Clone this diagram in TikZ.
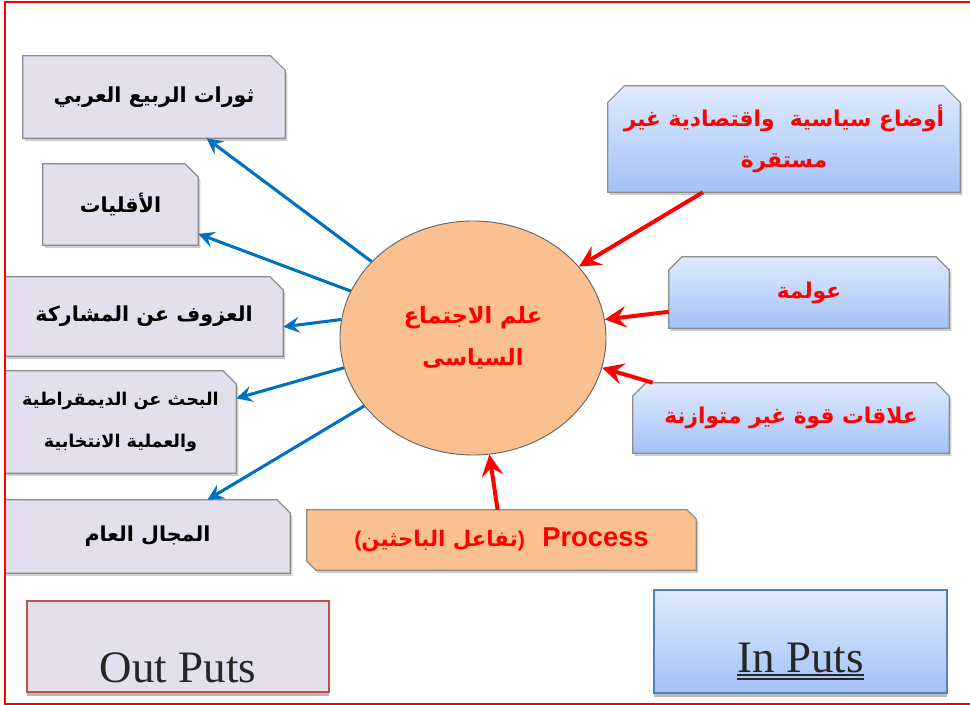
\documentclass[tikz,border=0pt]{standalone}
\usepackage{fontspec}
\setmainfont{Liberation Serif}
\newfontfamily\arabicfont[Script=Arabic]{DejaVu Sans}
\newfontfamily\arialfont{Liberation Sans}
\TeXXeTstate=1
\usetikzlibrary{shapes.geometric,arrows.meta,calc,shadows,backgrounds}
\newcommand\artext[1]{{\arabicfont\bfseries\beginR #1\endR}}
\definecolor{lav}{HTML}{E4DFEC}
\definecolor{boxgray}{HTML}{8C8C8C}
\definecolor{bluearr}{HTML}{0070C0}
\definecolor{tanfill}{HTML}{FAC090}
\definecolor{ltop}{HTML}{DFEAFC}
\definecolor{lbot}{HTML}{A3C2F7}
\definecolor{inborder}{HTML}{4F81BD}
\definecolor{outborder}{HTML}{C0504D}
\definecolor{framered}{HTML}{FF0000}
\definecolor{txtred}{HTML}{FF0000}
\tikzset{
  boxnode/.style={rectangle, inner sep=0pt, align=center},
  lefttext/.style={font=\fontsize{15.5}{32}\selectfont, text=black},
  righttext/.style={font=\fontsize{16.3}{31}\selectfont, text=txtred},
  lshape/.style={fill=lav, draw=boxgray, line width=0.9pt,
    drop shadow={shadow xshift=1.5pt, shadow yshift=-2pt, fill=black!40, opacity=0.5}},
  rshape/.style={top color=ltop, bottom color=lbot, draw=boxgray, line width=0.9pt,
    drop shadow={shadow xshift=1.5pt, shadow yshift=-2pt, fill=black!40, opacity=0.5}},
  pshape/.style={fill=tanfill, draw=boxgray, line width=0.9pt,
    drop shadow={shadow xshift=1.5pt, shadow yshift=-2pt, fill=black!40, opacity=0.5}},
  outarrow/.style={draw=bluearr, line width=2.3pt, -{Stealth[length=12pt,width=12pt,inset=4.5pt]}},
  inarrow/.style={draw=txtred, line width=3pt, -{Stealth[length=16pt,width=16pt,inset=6pt]}},
}
\begin{document}
\begin{tikzpicture}[x=0.75pt,y=-0.75pt]
\useasboundingbox (0,0) rectangle (970,705);
% frame
\draw[framered, line width=1.6pt] (980,2) -- (5,2) -- (5,704) -- (980,704);

% left (output) boxes
\node[boxnode, lefttext, minimum width=196.5pt, minimum height=61.5pt] (b1) at (154,97) {\artext{ثورات الربيع العربي}};
\node[boxnode, lefttext, minimum width=116.25pt, minimum height=60.75pt] (b2) at (120.5,204.5) {\artext{الأقليات}};
\node[boxnode, lefttext, minimum width=208.5pt, minimum height=59.25pt] (b3) at (144,316.5) {\artext{العزوف عن المشاركة}};
\node[boxnode, lefttext, font=\fontsize{13.2}{31}\selectfont, minimum width=173.25pt, minimum height=76.5pt] (b4) at (120.5,422) {\artext{البحث عن الديمقراطية}\\\artext{والعملية الانتخابية}};
\node[boxnode, lefttext, minimum width=213.75pt, minimum height=54.75pt] (b5) at (147.5,536.5) {\artext{المجال العام}};

% right (input) boxes
\node[boxnode, righttext, minimum width=264pt, minimum height=79.5pt] (r1) at (784,139) {\artext{أوضاع سياسية\ \ واقتصادية غير}\\\artext{مستقرة}};
\node[boxnode, righttext, minimum width=210pt, minimum height=53.25pt] (r2) at (809,292.5) {\artext{عولمة}};
\node[boxnode, righttext, minimum width=237pt, minimum height=52.5pt] (r3) at (791,418) {\artext{علاقات قوة غير متوازنة}};

% process box
\node[boxnode, text=txtred, minimum width=291.75pt, minimum height=45pt] (proc) at (501.5,540)
  {{\fontsize{16}{18}\selectfont\arialfont\bfseries(}\artext{\fontsize{16}{18}\selectfont تفاعل الباحثين}{\fontsize{16}{18}\selectfont\arialfont\bfseries)}\hspace{13pt}{\arialfont\bfseries\fontsize{20.5}{22}\selectfont Process}};

% centre ellipse
\node[ellipse, fill=tanfill, draw=black!60, line width=0.7pt, minimum width=199.5pt, minimum height=175.5pt, inner sep=0pt, align=center, text=txtred, font=\fontsize{16.8}{31}\selectfont] (ell) at (473,338) {\artext{علم الاجتماع}\\\artext{السياسى}};

% legend boxes
\node[boxnode, minimum width=226.5pt, minimum height=68.25pt] (out) at (178,646.5) {};
\node[inner sep=0pt, anchor=base, text=black!85, font=\fontsize{33.75}{40}\selectfont] (outtxt) at (178,682) {Out Puts};
\node[boxnode, minimum width=219.75pt, minimum height=77.25pt] (in) at (800.5,641.5) {};
\node[inner sep=0pt, anchor=base, text=black!85, font=\fontsize{33.75}{40}\selectfont] (intxt) at (800.5,672) {In Puts};
\draw[black!85, line width=1.9pt] ([yshift=-2.3pt]intxt.base west) -- ([yshift=-2.3pt]intxt.base east);
\draw[black!85, line width=1.1pt] ([yshift=-5.3pt]intxt.base west) -- ([yshift=-5.3pt]intxt.base east);

\begin{scope}[on background layer]
  \foreach \b/\s in {b1/11pt, b2/10pt, b3/10pt, b4/10pt, b5/10pt}{
    \path[lshape] (\b.south west) -- (\b.north west) -- ([xshift=-\s]\b.north east) -- ([yshift=-\s]\b.north east) -- (\b.south east) -- cycle;
  }
  \foreach \b/\s in {r1/12.5pt, r2/10pt, r3/10pt}{
    \path[rshape] (\b.south west) -- ([yshift=-\s]\b.north west) -- ([xshift=\s]\b.north west) -- ([xshift=-\s]\b.north east) -- ([yshift=-\s]\b.north east) -- (\b.south east) -- cycle;
  }
  \path[pshape] ([xshift=7pt]proc.south west) -- ([yshift=7pt]proc.south west) -- (proc.north west) -- ([xshift=-7pt]proc.north east) -- ([yshift=-7pt]proc.north east) -- (proc.south east) -- cycle;
  \path[fill=lav, draw=outborder, line width=1.3pt, drop shadow={shadow xshift=0pt, shadow yshift=-2.5pt, fill=black!40, opacity=0.7}] (out.south west) rectangle (out.north east);
  \path[top color=ltop, bottom color=lbot, draw=inborder, line width=1.3pt, drop shadow={shadow xshift=0pt, shadow yshift=-2.5pt, fill=black!40, opacity=0.7}] (in.south west) rectangle (in.north east);
\end{scope}

% outputs (blue)
\draw[outarrow] (ell.143) -- ($(b1.south west)!0.70!(b1.south east)$);
\draw[outarrow] (ell.159) -- ($(b2.north east)!0.86!(b2.south east)$);
\draw[outarrow] (ell.172) -- ($(b3.north east)!0.63!(b3.south east)$);
\draw[outarrow] (ell.193) -- ($(b4.north east)!0.27!(b4.south east)$);
\draw[outarrow] (ell.212) -- ($(b5.north west)!0.71!(b5.north east)$);
% inputs (red)
\draw[inarrow] ($(r1.south west)!0.27!(r1.south east)$) -- (ell.34);
\draw[inarrow] ($(r2.north west)!0.77!(r2.south west)$) -- (ell.8);
\draw[inarrow] ($(r3.north west)!0.063!(r3.north east)$) -- (ell.-13);
\draw[inarrow] ($(proc.north west)!0.49!(proc.north east)$) -- (ell.-82);
\end{tikzpicture}
\end{document}
